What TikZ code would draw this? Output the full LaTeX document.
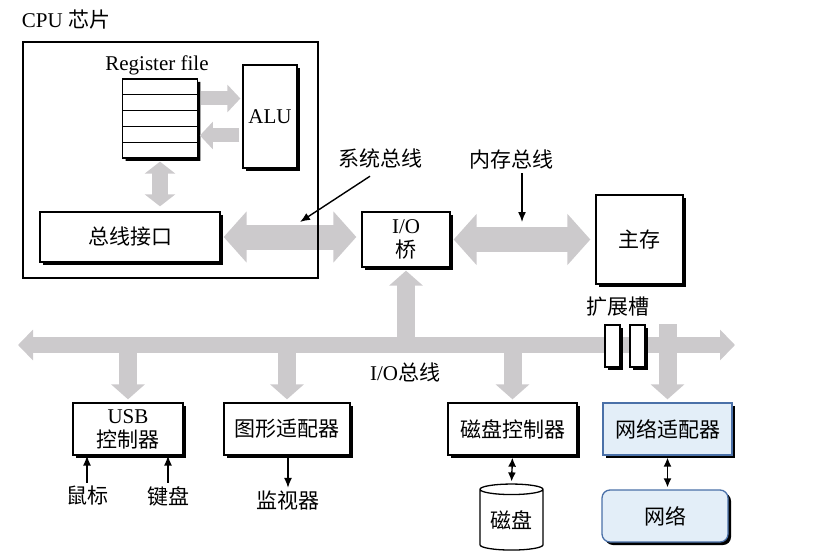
\documentclass[tikz,border=0pt]{standalone}
\usepackage{fontspec}
\setmainfont{Liberation Serif}
\newfontfamily\cjk{Noto Sans CJK SC}
\usetikzlibrary{arrows.meta,shapes.geometric,shapes.multipart,shadows}
\definecolor{busgray}{HTML}{CCCACC}
\definecolor{nicfill}{HTML}{E3EEF8}
\definecolor{nicline}{HTML}{4A70A8}
\tikzset{
  shadowed/.style={drop shadow={shadow xshift=3pt,shadow yshift=-3pt,fill=black,opacity=1}},
  box/.style={draw,line width=1.3pt,fill=white,inner sep=2pt,shadowed},
  nic/.style={draw=nicline,fill=nicfill},
  regfile/.style={draw,line width=1.2pt,fill=white,rectangle split,rectangle split parts=5,
    rectangle split empty part width=70pt,rectangle split empty part height=14.6pt,
    rectangle split empty part depth=0pt,inner sep=0pt,shadowed},
  cpubox/.style={draw,line width=1.6pt,minimum width=295pt,minimum height=236pt},
  slot/.style={draw,line width=1.2pt,fill=white,minimum width=15pt,minimum height=42pt,inner sep=0pt,shadowed},
  disk/.style={draw,line width=1.3pt,fill=white,cylinder,shape border rotate=90,aspect=0.25,
    minimum width=63pt,minimum height=66pt,inner sep=0pt},
  iobus/.style={color=busgray,line width=16pt,{Triangle[length=15pt,width=30pt]}-{Triangle[length=15pt,width=30pt]}},
  sysbus/.style={color=busgray,line width=25pt,{Triangle[length=23pt,width=50pt]}-{Triangle[length=23pt,width=50pt]},
    shorten <=3pt,shorten >=5pt},
  regarr/.style={color=busgray,line width=14pt,-{Triangle[length=13pt,width=27pt]},shorten <=3pt,shorten >=2pt},
  regbus/.style={color=busgray,line width=16pt,{Triangle[length=12pt,width=30pt]}-{Triangle[length=12pt,width=30pt]},
    shorten <=3pt,shorten >=5pt},
  tap/.style={color=busgray,line width=18pt,-{Triangle[length=15pt,width=33pt]},shorten >=3pt},
  ptr/.style={line width=1.4pt,-{Latex[length=10pt,width=8pt]}},
  dptr/.style={line width=1.4pt,{Latex[length=9pt,width=8pt]}-{Latex[length=9pt,width=8pt]},shorten <=2pt,shorten >=2pt},
}
\begin{document}
\begin{tikzpicture}[x=1pt,y=-1pt,font=\fontsize{21}{24}\selectfont]
\useasboundingbox (0,0) rectangle (834,556);
\node (CPUlbl) at (66,20) {CPU {\cjk 芯片}};
\node (RFlbl) at (157,65) {Register file};
\node[regfile] (RF) at (160,118.5) {};
\node[box,minimum width=54pt,minimum height=103pt] (ALU) at (270,116.5) {ALU};
\node[box,minimum width=180pt,minimum height=50pt] (BI) at (130,237) {\cjk 总线接口};
\node[box,minimum width=88pt,minimum height=55pt,align=center] (IOB) at (406,239.5) {I/O\\{\cjk 桥}};
\node[box,minimum width=87pt,minimum height=89pt] (MEM) at (639.5,239.5) {\cjk 主存};
\node[box,minimum width=110pt,minimum height=52pt,align=center] (USB) at (128,429) {USB\\{\cjk 控制器}};
\node[box,minimum width=126pt,minimum height=52pt] (GFX) at (287,429) {\cjk 图形适配器};
\node[box,minimum width=129pt,minimum height=52pt] (DC) at (512.5,429) {\cjk 磁盘控制器};
\node[box,nic,minimum width=129pt,minimum height=52pt] (NIC) at (667.5,429) {\cjk 网络适配器};
\node[box,nic,rounded corners=8pt,minimum width=126pt,minimum height=52pt] (NET) at (665,516) {\cjk 网络};
\node[disk] (DSK) at (511.5,520) {\cjk 磁盘};
\node (SB) at (380,158) {\cjk 系统总线};
\node (MB) at (511,160) {\cjk 内存总线};
\node (EXT) at (618,307) {\cjk 扩展槽};
\node (IOlbl) at (405,372) {I/O{\cjk 总线}};
\node (MS) at (87,496) {\cjk 鼠标};
\node (KB) at (168,496) {\cjk 键盘};
\node (MON) at (288,501) {\cjk 监视器};
\coordinate (iobL) at (18,345);
\coordinate (iobR) at (735,345);
\coordinate (sbtip) at (300,222);
\coordinate (mbtip) at (522,222);
\draw[iobus] (iobL) -- (iobR);
\draw[sysbus] (BI.east) -- (BI.east -| IOB.west);
\draw[sysbus] (IOB.east) -- (IOB.east -| MEM.west);
\draw[regarr] ([yshift=20pt]RF.east) -- ([yshift=20pt]RF.east -| ALU.west);
\draw[regarr] ([yshift=-17pt]RF.east -| ALU.west) -- ([yshift=-17pt]RF.east);
\draw[regbus] (RF.south) -- (RF.south |- BI.north);
\node[cpubox] (CPU) at (170.5,160) {};
\node[slot] (SL1) at (612.5,346) {};
\node[slot] (SL2) at (637.5,346) {};
\draw[tap] (USB.north |- iobL) -- (USB.north);
\draw[tap] (GFX.north |- iobL) -- (GFX.north);
\draw[tap] (DC.north |- iobL) -- (DC.north);
\draw[tap] (NIC.north |- SL2.north) -- (NIC.north);
\draw[tap] (IOB.south |- iobL) -- (IOB.south);
\draw[ptr] ([xshift=-10pt,yshift=-5pt]SB.south) -- (sbtip);
\draw[ptr] (MB.south -| mbtip) -- (mbtip);
\draw[ptr] (MS.north) -- (MS.north |- USB.south);
\draw[ptr] (KB.north) -- (KB.north |- USB.south);
\draw[ptr] (GFX.south -| MON.north) -- (MON.north);
\draw[dptr] (DC.south) -- (DSK.north);
\draw[dptr] (NIC.south) -- (NIC.south |- NET.north);
\end{tikzpicture}
\end{document}
